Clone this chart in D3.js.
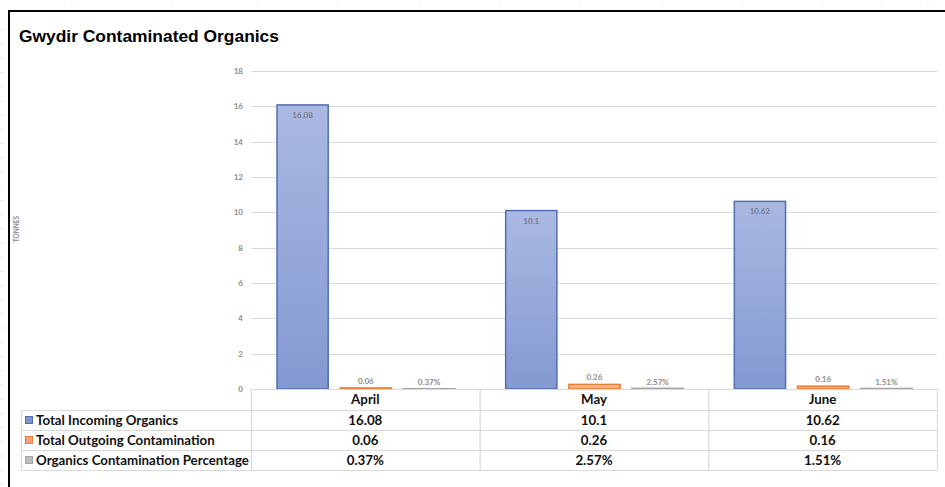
<!DOCTYPE html>
<html><head><meta charset="utf-8">
<script src="https://cdn.jsdelivr.net/npm/d3@7/dist/d3.min.js"></script>
<style>
html,body{margin:0;padding:0;background:#fff;}
svg{display:block;}
</style></head>
<body>
<svg id="c" width="945" height="487"></svg>
<script>
const categories = ["April", "May", "June"];
const seriesNames = ["Total Incoming Organics", "Total Outgoing Contamination", "Organics Contamination Percentage"];
const incoming = [16.08, 10.1, 10.62];
const outgoing = [0.06, 0.26, 0.16];
const percentage = [0.0037, 0.0257, 0.0151];
const incomingLabels = ["16.08", "10.1", "10.62"];
const outgoingLabels = ["0.06", "0.26", "0.16"];
const percentageLabels = ["0.37%", "2.57%", "1.51%"];
const yTicks = [0, 2, 4, 6, 8, 10, 12, 14, 16, 18];

const series = [
  {name: seriesNames[0], values: incoming, labels: incomingLabels, fillTop: "#aab9e2", fillBot: "#8499d2", stroke: "#4f6fb3", key: "#7f93cf", sw: 1.5},
  {name: seriesNames[1], values: outgoing, labels: outgoingLabels, fillTop: "#f8c4a0", fillBot: "#f3a77a", stroke: "#ed7d31", key: "#f2a57a", sw: 1.5},
  {name: seriesNames[2], values: percentage, labels: percentageLabels, fillTop: "#cfcfcf", fillBot: "#bdbdbd", stroke: "#a5a5a5", key: "#bdbdbd", sw: 2}
];

const svg = d3.select("#c");
const pLeft = 251, pRight = 937, pTop = 71, pBottom = 389;

const defs = svg.append("defs");
series.forEach((s, i) => {
  const g = defs.append("linearGradient").attr("id", "g" + i).attr("x1", 0).attr("y1", 0).attr("x2", 0).attr("y2", 1);
  g.append("stop").attr("offset", "0%").attr("stop-color", s.fillTop);
  g.append("stop").attr("offset", "100%").attr("stop-color", s.fillBot);
});

// faint spreadsheet marks
const topMarks = [72, 172, 258, 338, 420, 500, 580, 662, 742, 822, 882, 928];
svg.selectAll(".tm").data(topMarks).join("line")
  .attr("x1", d => d).attr("x2", d => d).attr("y1", 1).attr("y2", 5)
  .attr("stroke", "#ececec").attr("stroke-width", 1);
const leftMarks = d3.range(30, 487, 14.2);
svg.selectAll(".lm").data(leftMarks).join("line")
  .attr("x1", 0).attr("x2", 4).attr("y1", d => d).attr("y2", d => d)
  .attr("stroke", "#ececec").attr("stroke-width", 1);

// frame
svg.append("line").attr("x1", 8).attr("x2", 945).attr("y1", 11).attr("y2", 11).attr("stroke", "#000").attr("stroke-width", 2);
svg.append("line").attr("x1", 9).attr("x2", 9).attr("y1", 10).attr("y2", 487).attr("stroke", "#000").attr("stroke-width", 2);

// title
svg.append("text").attr("x", 19).attr("y", 42)
  .attr("font-family", "Liberation Sans, Arial, sans-serif").attr("font-weight", "bold").attr("font-size", 17.4)
  .attr("fill", "#000").text("Gwydir Contaminated Organics");

const y = d3.scaleLinear().domain([0, 18]).range([pBottom, pTop]);
const x0 = d3.scaleBand().domain(categories).range([pLeft, pRight]).paddingInner(0).paddingOuter(0);
const x1 = d3.scaleBand().domain(d3.range(3)).range([26, x0.bandwidth() - 25]).paddingInner(0.19).paddingOuter(0);

// gridlines
svg.append("g").selectAll("line").data(yTicks.filter(t => t > 0)).join("line")
  .attr("x1", pLeft).attr("x2", pRight).attr("y1", d => Math.round(y(d)) + 0.5).attr("y2", d => Math.round(y(d)) + 0.5)
  .attr("stroke", "#d9d9d9").attr("stroke-width", 1);

// y axis
const yAxis = d3.axisLeft(y).tickValues(yTicks).tickSize(0).tickPadding(8);
const ga = svg.append("g").attr("transform", `translate(${pLeft},0)`).call(yAxis);
ga.select(".domain").remove();
ga.selectAll("text").attr("font-family", "Lato, Calibri, sans-serif").attr("font-size", 8).attr("font-weight", "bold").attr("fill", "#8c8c8c");

// axis title
svg.append("text").attr("transform", "translate(19,229) rotate(-90)").attr("text-anchor", "middle")
  .attr("font-family", "Lato, Calibri, sans-serif").attr("font-size", 6.5).attr("font-weight", "bold").attr("fill", "#8c8c8c")
  .text("TONNES");

// bars
categories.forEach((c, ci) => {
  const g = svg.append("g").attr("transform", `translate(${x0(c)},0)`);
  series.forEach((s, si) => {
    const v = s.values[ci];
    const yy = y(v);
    const h = Math.max(pBottom - yy, 0);
    g.append("rect").attr("x", x1(si)).attr("y", yy).attr("width", x1.bandwidth()).attr("height", h)
      .attr("fill", `url(#g${si})`).attr("stroke", s.stroke).attr("stroke-width", s.sw);
    const inside = si === 0;
    g.append("text").attr("x", x1(si) + x1.bandwidth() / 2).attr("y", inside ? yy + 13 : yy - 4)
      .attr("text-anchor", "middle").attr("font-family", "Lato, Calibri, sans-serif").attr("font-size", 8)
      .attr("font-weight", "bold").attr("fill", inside ? "#767b88" : "#8c8c8c").text(s.labels[ci]);
  });
});

// data table
const tblLeft = 21, rowH = 20, headTop = pBottom, row0 = 410;
const lineC = "#d9d9d9";
const tbl = svg.append("g");
tbl.append("line").attr("x1", pLeft).attr("x2", pRight).attr("y1", headTop + 0.5).attr("y2", headTop + 0.5).attr("stroke", lineC);
[0, 1, 2, 3].forEach(i => {
  tbl.append("line").attr("x1", tblLeft).attr("x2", pRight).attr("y1", row0 + i * rowH + 0.5).attr("y2", row0 + i * rowH + 0.5).attr("stroke", lineC).attr("stroke-width", 1.2);
});
tbl.append("line").attr("x1", tblLeft + 0.5).attr("x2", tblLeft + 0.5).attr("y1", row0).attr("y2", row0 + 3 * rowH).attr("stroke", lineC).attr("stroke-width", 1.2);
categories.forEach(c => {
  tbl.append("line").attr("x1", x0(c) + 0.5).attr("x2", x0(c) + 0.5).attr("y1", headTop).attr("y2", row0 + 3 * rowH).attr("stroke", lineC).attr("stroke-width", 1.2);
});
tbl.append("line").attr("x1", pRight + 0.5).attr("x2", pRight + 0.5).attr("y1", headTop).attr("y2", row0 + 3 * rowH).attr("stroke", lineC).attr("stroke-width", 1.2);

const tf = "Lato, Calibri, sans-serif";
const fs = 13.3;
tbl.selectAll(".hd").data(categories).join("text")
  .attr("x", d => x0(d) + x0.bandwidth() / 2).attr("y", headTop + 15).attr("text-anchor", "middle")
  .attr("font-family", tf).attr("font-weight", "bold").attr("font-size", fs).attr("fill", "#111").text(d => d);

series.forEach((s, si) => {
  const ry = row0 + si * rowH;
  tbl.append("rect").attr("x", 25.5).attr("y", ry + 6.5).attr("width", 7).attr("height", 7)
    .attr("fill", s.key).attr("stroke", s.stroke).attr("stroke-width", 1);
  tbl.append("text").attr("x", 36).attr("y", ry + 14.5)
    .attr("font-family", tf).attr("font-weight", "bold").attr("font-size", fs).attr("fill", "#111").text(s.name);
  categories.forEach((c, ci) => {
    tbl.append("text").attr("x", x0(c) + x0.bandwidth() / 2).attr("y", ry + 14.5).attr("text-anchor", "middle")
      .attr("font-family", tf).attr("font-weight", "bold").attr("font-size", fs).attr("fill", "#111").text(s.labels[ci]);
  });
});
</script>
</body></html>
